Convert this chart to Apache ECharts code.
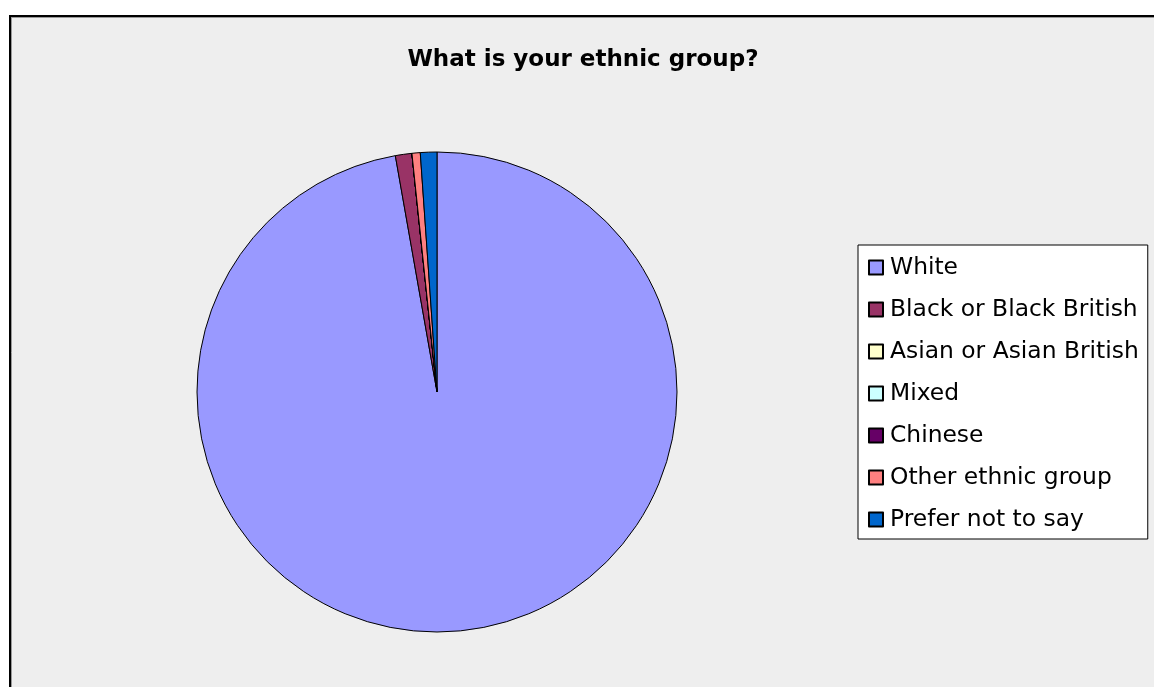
<!DOCTYPE html>
<html><head><meta charset="utf-8">
<script src="https://cdn.jsdelivr.net/npm/echarts@6/dist/echarts.min.js"></script>
<style>html,body{margin:0;padding:0;background:#fff}#c{width:1154px;height:687px}</style>
</head><body><div id="c"></div>
<script>
const titleText = 'What is your ethnic group?';
const categories = ['White','Black or Black British','Asian or Asian British','Mixed','Chinese','Other ethnic group','Prefer not to say'];
const values = [175, 2, 0, 0, 0, 1, 2];
const colors = ['#9999FF','#993366','#FFFFCC','#CCFFFF','#660066','#FF8080','#0066CC'];

const chart = echarts.init(document.getElementById('c'), null, {renderer:'canvas'});
chart.setOption({
  animation: false,
  backgroundColor: '#ffffff',
  graphic: [
    {type:'rect', z:-10, silent:true, shape:{x:10,y:16,width:1200,height:720}, style:{fill:'#EEEEEE', stroke:'#000000', lineWidth:2}},
    {type:'line', z:-9, silent:true, shape:{x1:11.5,y1:17,x2:11.5,y2:700}, style:{stroke:'#999999', lineWidth:1}},
    {type:'line', z:-9, silent:true, shape:{x1:11,y1:17.5,x2:1200,y2:17.5}, style:{stroke:'#999999', lineWidth:1}}
  ],
  title: {
    text: titleText,
    left: 578, textAlign: 'center', top: 44,
    textStyle: {fontFamily:'DejaVu Sans', fontWeight:'bold', fontSize:23, color:'#000'}
  },
  legend: {
    orient: 'vertical', left: 858, top: 245,
    backgroundColor: '#ffffff', borderColor: '#000000', borderWidth: 1, borderRadius: 0,
    padding: [11, 9, 8, 10],
    icon: 'rect', itemWidth: 14, itemHeight: 14, itemGap: 19,
    selectedMode: false,
    textStyle: {fontFamily:'DejaVu Sans', fontSize:23.4, color:'#000', lineHeight:23, padding:[0,0,0,2]},
    data: categories
  },
  series: [{
    type: 'pie',
    center: [437, 392], radius: 240,
    startAngle: 90, clockwise: true,
    label: {show:false}, labelLine:{show:false},
    emphasis: {disabled:true},
    itemStyle: {borderColor:'#000000', borderWidth:1},
    data: categories.map((n,i)=>({name:n, value:values[i], itemStyle:{color:colors[i]}}))
  }]
});
</script></body></html>
